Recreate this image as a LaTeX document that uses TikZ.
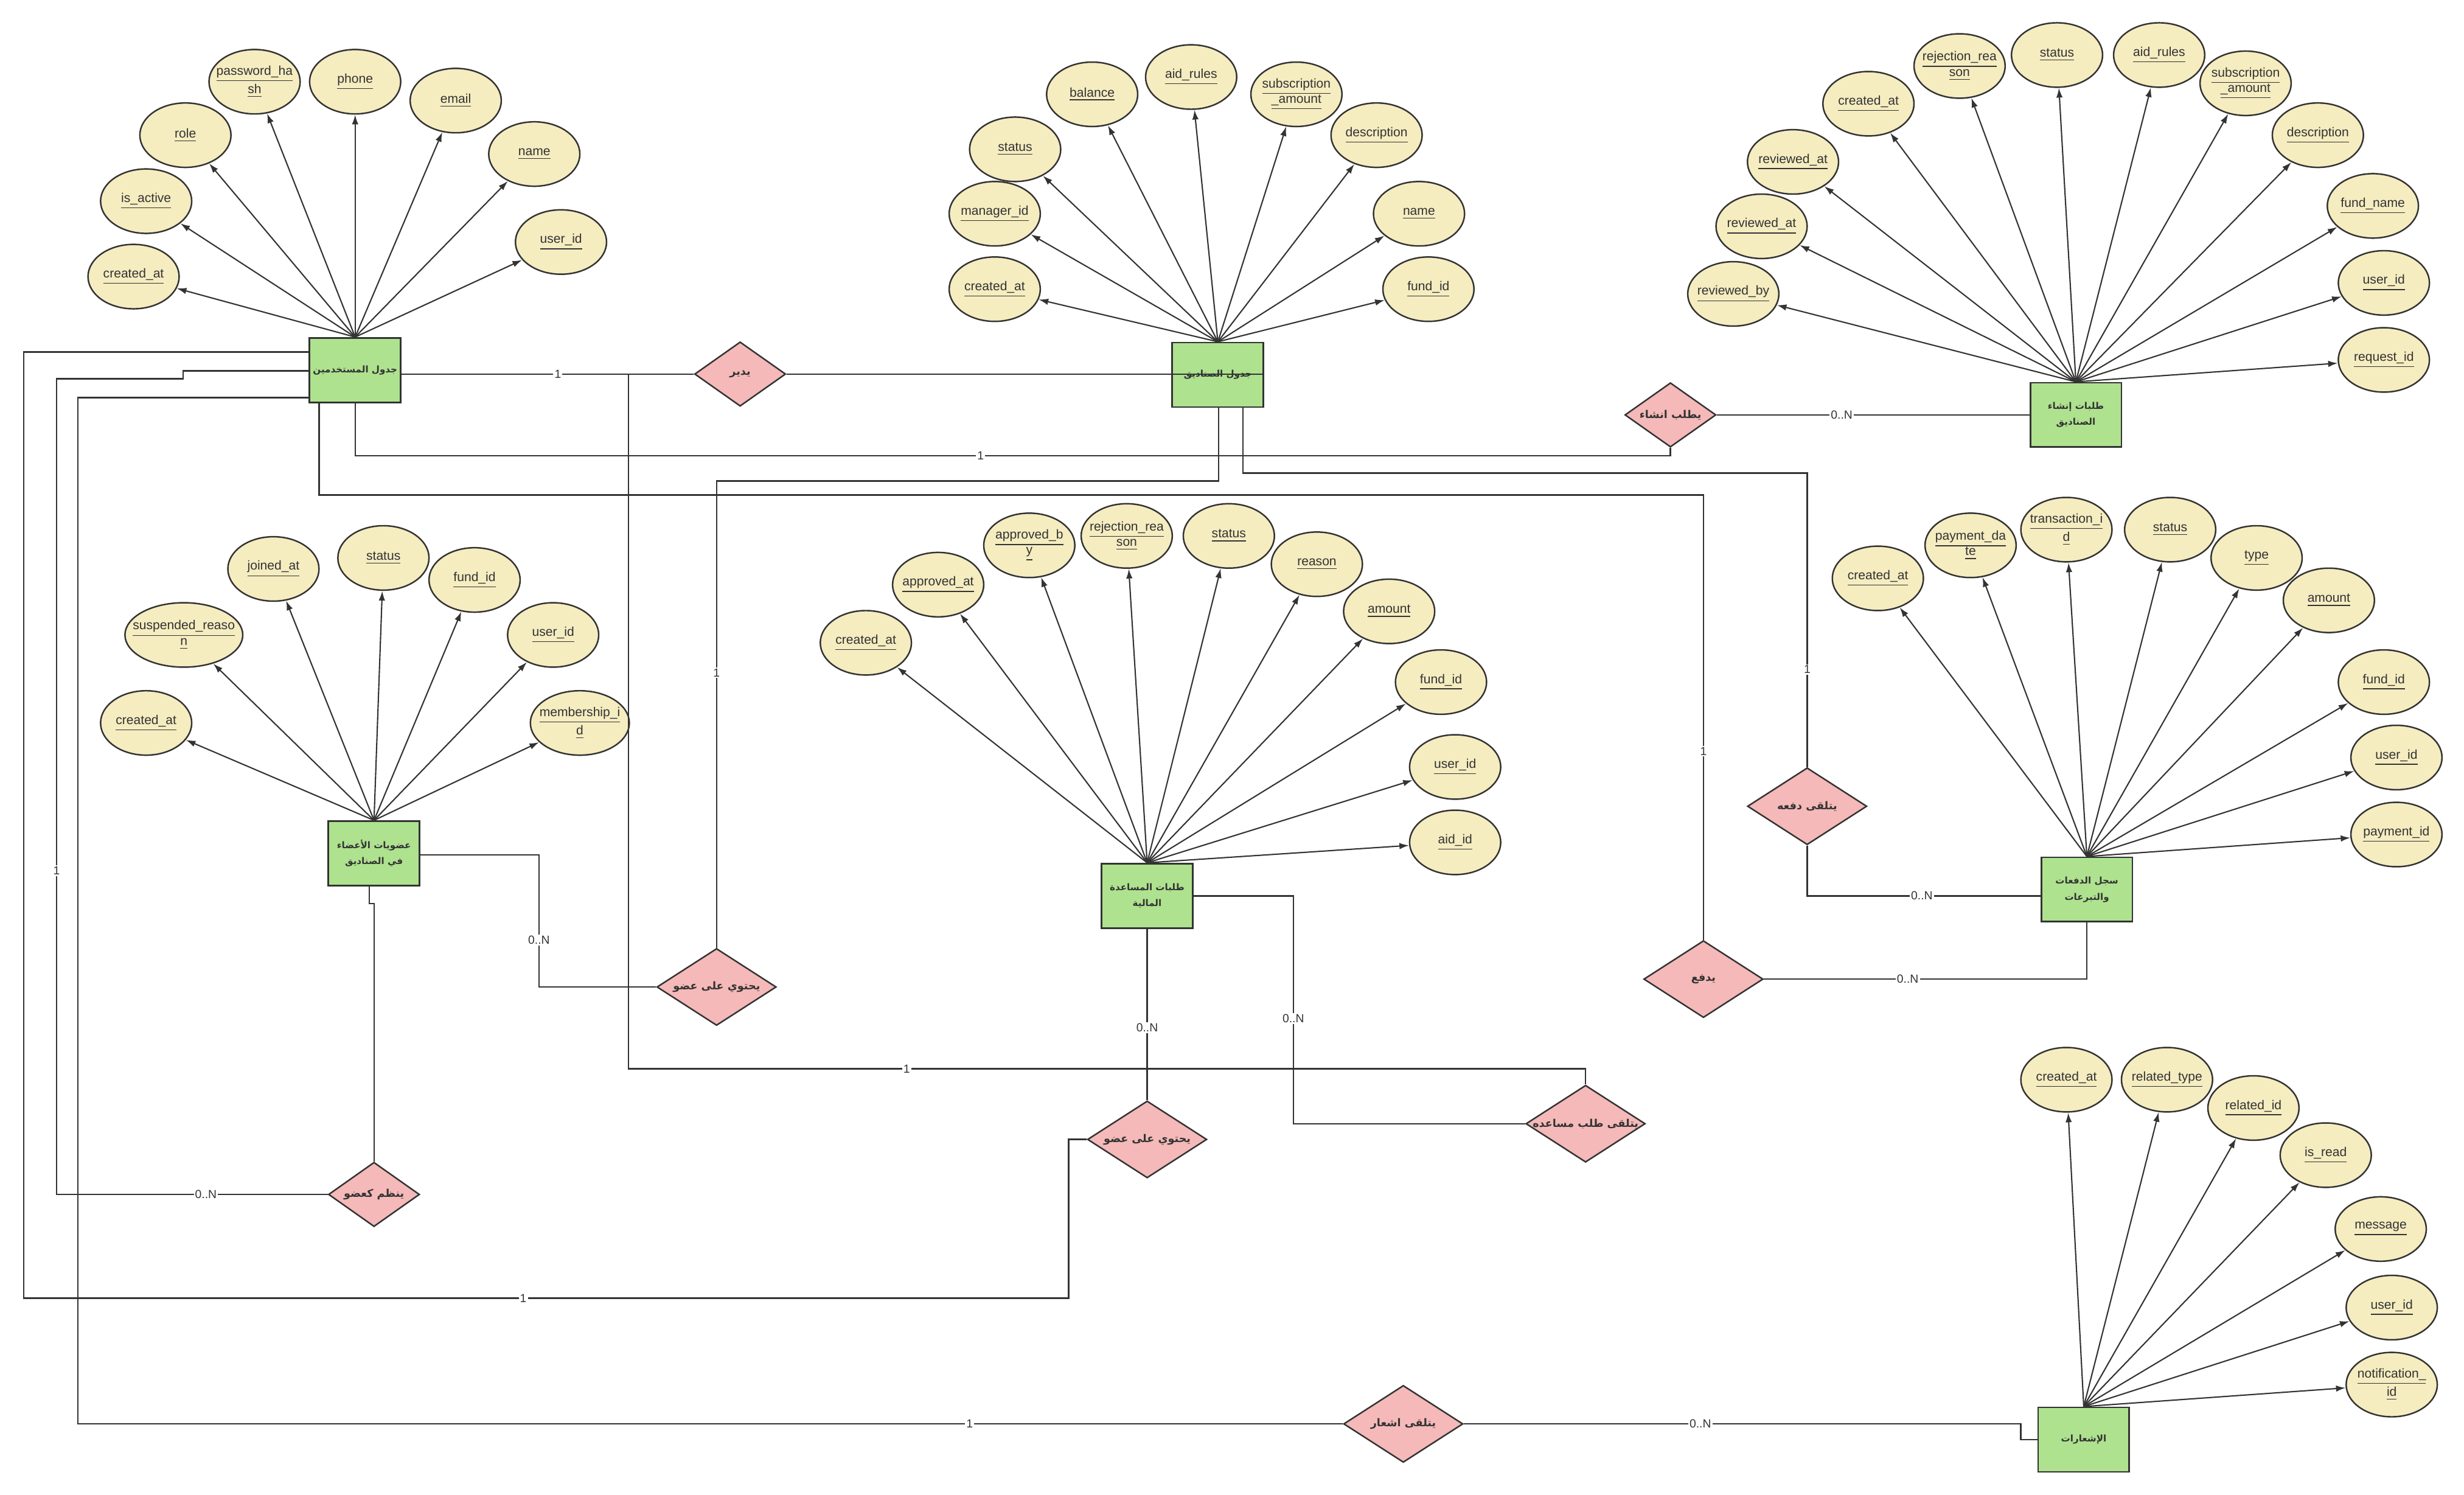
\documentclass[tikz,border=0pt]{standalone}
\usepackage{fontspec}
\setmainfont{Liberation Sans}
\newfontfamily\arfont[Script=Arabic]{DejaVu Sans}
\TeXXeTstate=1
\usetikzlibrary{shapes.geometric,arrows.meta}
\definecolor{entgreen}{HTML}{AEE28F}
\definecolor{attrbeige}{HTML}{F5ECC0}
\definecolor{relpink}{HTML}{F4B9B8}
\definecolor{linec}{HTML}{333333}
\definecolor{textc}{HTML}{333333}
\newcommand\ulx[1]{\underline{#1}}
\tikzset{
  entity/.style={draw=linec, line width=0.8pt, fill=entgreen, minimum width=1.498cm, minimum height=1.059cm, inner sep=0pt, align=center, text=textc, font=\arfont\bfseries\fontsize{4.3}{7.5}\selectfont},
  attr/.style={ellipse, draw=linec, line width=0.7pt, fill=attrbeige, minimum width=1.498cm, minimum height=1.059cm, inner sep=0pt},
  atext/.style={font=\fontsize{6}{7.2}\selectfont, text=textc, align=center, inner sep=0pt},
  rel/.style={diamond, draw=linec, line width=0.7pt, fill=relpink, minimum width=1.963cm, minimum height=1.266cm, inner sep=0pt},
  relsmall/.style={minimum width=1.498cm, minimum height=1.059cm},
  rtext/.style={font=\arfont\bfseries\fontsize{5}{6}\selectfont, text=textc, inner sep=0pt},
  card/.style={fill=white, inner sep=0.6pt, font=\fontsize{5.5}{6}\selectfont, text=textc},
  conn/.style={draw=linec, line width=0.7pt},
  aarrow/.style={draw=linec, line width=0.6pt, -{Latex[length=4.5pt,width=3pt]}}
}
\begin{document}
\begin{tikzpicture}[x=0.02583cm, y=-0.02583cm]
\fill[white] (0,0) rectangle (1568,951);
\useasboundingbox (0,0) rectangle (1568,951);

% ---------- entities ----------
\node[entity] (users) at (226,235.5) {\beginR جدول المستخدمين\endR};
\node[entity] (funds) at (775,238.5) {\beginR جدول الصناديق\endR};
\node[entity] (freq) at (1321,264) {\beginR طلبات إنشاء\endR\\\beginR الصناديق\endR};
\node[entity] (memb) at (238,543) {\beginR عضويات الأعضاء\endR\\\beginR في الصناديق\endR};
\node[entity] (aid) at (730,570) {\beginR طلبات المساعدة\endR\\\beginR المالية\endR};
\node[entity] (pay) at (1328,566) {\beginR سجل الدفعات\endR\\\beginR والتبرعات\endR};
\node[entity] (notif) at (1326,916) {\beginR الإشعارات\endR};

% ---------- users attributes ----------
\node[attr,label={[atext]center:\ulx{password\_ha}\\\ulx{sh}}] (u_pw) at (162,52) {};
\node[attr,label={[atext]center:\ulx{phone}}] (u_phone) at (226,52) {};
\node[attr,label={[atext]center:\ulx{email}}] (u_email) at (290,64) {};
\node[attr,label={[atext]center:\ulx{name}}] (u_name) at (340,98) {};
\node[attr,label={[atext]center:\ulx{user\_id}}] (u_id) at (357,154) {};
\node[attr,label={[atext]center:\ulx{role}}] (u_role) at (118,86) {};
\node[attr,label={[atext]center:\ulx{is\_active}}] (u_active) at (93,128) {};
\node[attr,label={[atext]center:\ulx{created\_at}}] (u_created) at (85,176) {};
\foreach \a in {u_pw,u_phone,u_email,u_name,u_id,u_role,u_active,u_created}
  \draw[aarrow] (users.north) -- (\a);

% ---------- funds attributes ----------
\node[attr,label={[atext]center:\ulx{balance}}] (f_bal) at (695,60) {};
\node[attr,label={[atext]center:\ulx{aid\_rules}}] (f_rules) at (758,49) {};
\node[attr,label={[atext]center:\ulx{subscription}\\\ulx{\_amount}}] (f_sub) at (825,60) {};
\node[attr,label={[atext]center:\ulx{description}}] (f_desc) at (876,86) {};
\node[attr,label={[atext]center:\ulx{name}}] (f_name) at (903,136) {};
\node[attr,label={[atext]center:\ulx{fund\_id}}] (f_id) at (909,184) {};
\node[attr,label={[atext]center:\ulx{status}}] (f_status) at (646,95) {};
\node[attr,label={[atext]center:\ulx{manager\_id}}] (f_mgr) at (633,136) {};
\node[attr,label={[atext]center:\ulx{created\_at}}] (f_created) at (633,184) {};
\foreach \a in {f_bal,f_rules,f_sub,f_desc,f_name,f_id,f_status,f_mgr,f_created}
  \draw[aarrow] (funds.north) -- (\a);

% ---------- fund request attributes ----------
\node[attr,label={[atext]center:\ulx{reviewed\_by}}] (q_by) at (1103,187) {};
\node[attr,label={[atext]center:\ulx{reviewed\_at}}] (q_at2) at (1121,144) {};
\node[attr,label={[atext]center:\ulx{reviewed\_at}}] (q_at1) at (1141,103) {};
\node[attr,label={[atext]center:\ulx{created\_at}}] (q_created) at (1189,66) {};
\node[attr,label={[atext]center:\ulx{rejection\_rea}\\\ulx{son}}] (q_rej) at (1247,42) {};
\node[attr,label={[atext]center:\ulx{status}}] (q_status) at (1309,35) {};
\node[attr,label={[atext]center:\ulx{aid\_rules}}] (q_rules) at (1374,35) {};
\node[attr,label={[atext]center:\ulx{subscription}\\\ulx{\_amount}}] (q_sub) at (1429,53) {};
\node[attr,label={[atext]center:\ulx{description}}] (q_desc) at (1475,86) {};
\node[attr,label={[atext]center:\ulx{fund\_name}}] (q_fname) at (1510,131) {};
\node[attr,label={[atext]center:\ulx{user\_id}}] (q_uid) at (1517,180) {};
\node[attr,label={[atext]center:\ulx{request\_id}}] (q_id) at (1517,229) {};
\foreach \a in {q_by,q_at2,q_at1,q_created,q_rej,q_status,q_rules,q_sub,q_desc,q_fname,q_uid,q_id}
  \draw[aarrow] (freq.north) -- (\a);

% ---------- membership attributes ----------
\node[attr,label={[atext]center:\ulx{created\_at}}] (m_created) at (93,460) {};
\node[attr,minimum width=1.937cm,label={[atext]center:\ulx{suspended\_reaso}\\\ulx{n}}] (m_susp) at (117,404) {};
\node[attr,label={[atext]center:\ulx{joined\_at}}] (m_joined) at (174,362) {};
\node[attr,label={[atext]center:\ulx{status}}] (m_status) at (244,355) {};
\node[attr,label={[atext]center:\ulx{fund\_id}}] (m_fund) at (302,369) {};
\node[attr,label={[atext]center:\ulx{user\_id}}] (m_user) at (352,404) {};
\node[attr,minimum width=1.627cm,label={[atext]center:\ulx{membership\_i}\\\ulx{d}}] (m_id) at (369,460) {};
\foreach \a in {m_created,m_susp,m_joined,m_status,m_fund,m_user,m_id}
  \draw[aarrow] (memb.north) -- (\a);

% ---------- aid attributes ----------
\node[attr,label={[atext]center:\ulx{created\_at}}] (a_created) at (551,409) {};
\node[attr,label={[atext]center:\ulx{approved\_at}}] (a_apat) at (597,372) {};
\node[attr,label={[atext]center:\ulx{approved\_b}\\\ulx{y}}] (a_apby) at (655,347) {};
\node[attr,label={[atext]center:\ulx{rejection\_rea}\\\ulx{son}}] (a_rej) at (717,341) {};
\node[attr,label={[atext]center:\ulx{status}}] (a_status) at (782,341) {};
\node[attr,label={[atext]center:\ulx{reason}}] (a_reason) at (838,359) {};
\node[attr,label={[atext]center:\ulx{amount}}] (a_amount) at (884,389) {};
\node[attr,label={[atext]center:\ulx{fund\_id}}] (a_fund) at (917,434) {};
\node[attr,label={[atext]center:\ulx{user\_id}}] (a_user) at (926,488) {};
\node[attr,label={[atext]center:\ulx{aid\_id}}] (a_id) at (926,536) {};
\foreach \a in {a_created,a_apat,a_apby,a_rej,a_status,a_reason,a_amount,a_fund,a_user,a_id}
  \draw[aarrow] (aid.north) -- (\a);

% ---------- payment attributes ----------
\node[attr,label={[atext]center:\ulx{created\_at}}] (p_created) at (1195,368) {};
\node[attr,label={[atext]center:\ulx{payment\_da}\\\ulx{te}}] (p_date) at (1254,347) {};
\node[attr,label={[atext]center:\ulx{transaction\_i}\\\ulx{d}}] (p_tx) at (1315,337) {};
\node[attr,label={[atext]center:\ulx{status}}] (p_status) at (1381,337) {};
\node[attr,label={[atext]center:\ulx{type}}] (p_type) at (1436,355) {};
\node[attr,label={[atext]center:\ulx{amount}}] (p_amount) at (1482,382) {};
\node[attr,label={[atext]center:\ulx{fund\_id}}] (p_fund) at (1517,434) {};
\node[attr,label={[atext]center:\ulx{user\_id}}] (p_user) at (1525,482) {};
\node[attr,label={[atext]center:\ulx{payment\_id}}] (p_id) at (1525,531) {};
\foreach \a in {p_created,p_date,p_tx,p_status,p_type,p_amount,p_fund,p_user,p_id}
  \draw[aarrow] (pay.north) -- (\a);

% ---------- notification attributes ----------
\node[attr,label={[atext]center:\ulx{created\_at}}] (n_created) at (1315,687) {};
\node[attr,label={[atext]center:\ulx{related\_type}}] (n_rtype) at (1379,687) {};
\node[attr,label={[atext]center:\ulx{related\_id}}] (n_rid) at (1434,705) {};
\node[attr,label={[atext]center:\ulx{is\_read}}] (n_read) at (1480,735) {};
\node[attr,label={[atext]center:\ulx{message}}] (n_msg) at (1515,782) {};
\node[attr,label={[atext]center:\ulx{user\_id}}] (n_user) at (1522,832) {};
\node[attr,label={[atext]center:\ulx{notification\_}\\\ulx{id}}] (n_id) at (1522,881) {};
\foreach \a in {n_created,n_rtype,n_rid,n_read,n_msg,n_user,n_id}
  \draw[aarrow] (notif.north) -- (\a);

% ---------- relationships ----------
\node[rel,relsmall,label={[rtext]center:\beginR يدير\endR}] (r_manage) at (471,238) {};
\node[rel,relsmall,label={[rtext]center:\beginR يطلب انشاء\endR}] (r_reqfund) at (1063,264) {};
\node[rel,label={[rtext]center:\beginR يتلقى دفعه\endR}] (r_payrecv) at (1150,513) {};
\node[rel,label={[rtext]center:\beginR يدفع\endR}] (r_pay) at (1084,623) {};
\node[rel,label={[rtext]center:\beginR يحتوي على عضو\endR}] (r_contain1) at (456,628) {};
\node[rel,label={[rtext]center:\beginR يحتوي على عضو\endR}] (r_contain2) at (730,725) {};
\node[rel,label={[rtext]center:\beginR يتلقى طلب مساعده\endR}] (r_aidrecv) at (1009,715) {};
\node[rel,relsmall,label={[rtext]center:\beginR ينظم كعضو\endR}] (r_join) at (238,760) {};
\node[rel,label={[rtext]center:\beginR يتلقى اشعار\endR}] (r_notif) at (893,906) {};

% ---------- connectors ----------
\draw[conn] (users.east |- 0,238) -- (r_manage.west);
\draw[conn] (r_manage.east) -- (funds.east |- r_manage.east);
\draw[conn] (users.east |- 0,238) -- (400,238) -- (400,680) -| (r_aidrecv.north);
\draw[conn] (users.south) -- (226,290) -| (r_reqfund.south);
\draw[conn] (users.south -| 203,0) -- (203,315) -| (r_pay.north);
\draw[conn] (users.west |- 0,236) -- (116.5,236) -- (116.5,241) -- (36,241) |- (r_join.west);
\draw[conn] (users.west |- 0,224) -- (15,224) -- (15,826) -- (680,826) |- (r_contain2.west);
\draw[conn] (users.west |- 0,253) -- (49.5,253) |- (r_notif.west);
\draw[conn] (r_notif.east) -- (1286,906) |- (notif.west);
\draw[conn] (funds.south -| 775.5,0) -- (775.5,306) -| (r_contain1.north);
\draw[conn] (memb.east |- 0,544) -- (343,544) |- (r_contain1.west);
\draw[conn] (funds.south -| 791,0) -- (791,301) -| (r_payrecv.north);
\draw[conn] (r_payrecv.south) |- (pay.west |- 0,570);
\draw[conn] (r_pay.east) -| (pay.south);
\draw[conn] (aid.south) -- (r_contain2.north);
\draw[conn] (aid.east) -- (823,570) |- (r_aidrecv.west);
\draw[conn] (r_reqfund.east) -- (freq.west |- r_reqfund.east);
\draw[conn] (memb.south -| 235,0) -- (235,575) -- (238,575) -- (r_join.north);

% ---------- cardinalities ----------
\node[card] (k1) at (355,238) {1};
\node[card] (k2) at (577,680) {1};
\node[card] (k3) at (624,290) {1};
\node[card] (k4) at (1084,478) {1};
\node[card] (k5) at (36,554) {1};
\node[card] (k6) at (131,760) {0..N};
\node[card] (k7) at (333,826) {1};
\node[card] (k8) at (617,906) {1};
\node[card] (k9) at (1082,906) {0..N};
\node[card] (k10) at (456,428) {1};
\node[card] (k11) at (343,598) {0..N};
\node[card] (k12) at (1150,426) {1};
\node[card] (k13) at (1223,570) {0..N};
\node[card] (k14) at (1214,623) {0..N};
\node[card] (k15) at (730,654) {0..N};
\node[card] (k16) at (823,648) {0..N};
\node[card] (k17) at (1172,264) {0..N};
\end{tikzpicture}
\end{document}
